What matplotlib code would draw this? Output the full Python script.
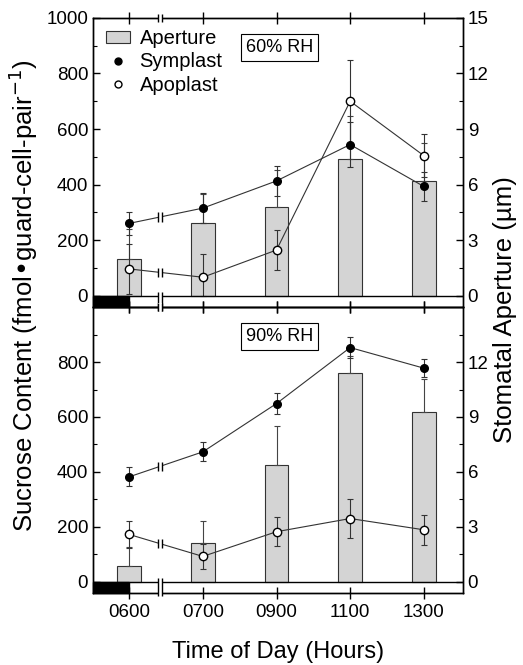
import numpy as np
import matplotlib.pyplot as plt
from matplotlib.patches import Patch, Rectangle
from matplotlib.lines import Line2D

plt.rcParams['font.family'] = ['Liberation Sans', 'DejaVu Sans']

# data
times = ['0600', '0700', '0900', '1100', '1300']

# 60% RH
ap60 = [2.0, 3.9, 4.8, 7.4, 6.2]          # stomatal aperture (um)
ap60_err = [1.6, 1.6, 2.0, 2.3, 2.05]
sym60 = [260, 315, 413, 544, 393]         # symplast sucrose
sym60_err = [42, 55, 54, 80, 51]
apo60 = [96, 66, 164, 700, 504]           # apoplast sucrose
apo60_err = [90, 84, 72, 150, 78]

# 90% RH
ap90 = [0.87, 2.1, 6.4, 11.4, 9.3]
ap90_err = [1.0, 1.2, 2.1, 0.93, 1.8]
sym90 = [382, 473, 649, 853, 778]
sym90_err = [35, 35, 37, 38, 32]
apo90 = [172, 92, 182, 230, 189]
apo90_err = [49, 45, 52, 70, 54]

x = np.arange(len(times))
ymin = -42
xlo, xhi = -0.49, 4.53
brk_x = 0.42   # where the time axis is broken
g = 0.028      # half gap of break marks


def brk(ax, xc, y0, y1):
    # double-line break mark with white gap
    ax.fill_between([xc - g, xc + g], y0, y1, color='white', zorder=8, clip_on=False, lw=0)
    ax.vlines([xc - g, xc + g], y0, y1, color='black', lw=1, zorder=9, clip_on=False)


def panel(ax, ap, ap_err, sym, sym_err, apo, apo_err, label, top_max):
    ax2 = ax.twinx()
    ax2.bar(x, ap, width=0.32, color='#d4d4d4', edgecolor='#333333', linewidth=0.8,
            yerr=[np.zeros(len(ap)), ap_err],
            error_kw=dict(ecolor='#444444', elinewidth=0.8, capsize=2.5, capthick=0.8))
    ax2.set_ylim(ymin * 0.015, 15)
    ax.set_zorder(ax2.get_zorder() + 1)
    ax.patch.set_visible(False)

    for vals, errs, fc, ms in ((sym, sym_err, 'black', 5.5), (apo, apo_err, 'white', 6)):
        lower = np.minimum(errs, vals)   # errors stop at zero
        ax.errorbar(x, vals, yerr=[lower, errs], fmt='o-', color='#333333', mfc=fc, mec='black',
                    ms=ms, lw=0.8, elinewidth=0.8, capsize=2.5, capthick=0.8, zorder=4)

    ax.set_xlim(xlo, xhi)
    ax.set_ylim(ymin, 1000)
    ax.axhline(0, color='black', lw=1, zorder=6)
    ax.add_patch(Rectangle((xlo, ymin), x[0] - xlo, -ymin, color='black', zorder=7, clip_on=False))

    # axis breaks
    brk(ax, brk_x, 985, 1015)
    brk(ax, brk_x, ymin - 12, 12)
    for s in (sym, apo):
        yi = s[0] + (s[1] - s[0]) * (brk_x - x[0]) / (x[1] - x[0])
        brk(ax, brk_x, yi - 17, yi + 17)

    ax.set_yticks(np.arange(0, top_max + 1, 200))
    ax.set_yticks(np.arange(100, 1000, 100), minor=True)
    ax2.set_yticks(np.arange(0, top_max * 0.015 + 0.1, 3))
    ax2.set_yticks(np.arange(1.5, 15, 1.5), minor=True)
    for a in (ax, ax2):
        a.tick_params(axis='y', which='major', direction='in', length=5, width=1, labelsize=13.5)
        a.tick_params(axis='y', which='minor', direction='in', length=3, width=0.8)
    ax.set_xticks(x)
    ax.tick_params(axis='x', which='major', direction='inout', length=9, width=1,
                   top=True, labelsize=13.5)
    for a in (ax, ax2):
        for sp in a.spines.values():
            sp.set_linewidth(1)

    ax.text(2.04, 893, label, ha='center', va='center', fontsize=13, zorder=10,
            bbox=dict(boxstyle='square,pad=0.28', fc='white', ec='black', lw=0.8))
    return ax2


fig = plt.figure(figsize=(5.23, 6.65), dpi=100)
ax_top = fig.add_axes([0.178, 0.538, 0.707, 0.435])
ax_bot = fig.add_axes([0.178, 0.108, 0.707, 0.430], sharex=ax_top)

panel(ax_top, ap60, ap60_err, sym60, sym60_err, apo60, apo60_err, '60% RH', 1000)
panel(ax_bot, ap90, ap90_err, sym90, sym90_err, apo90, apo90_err, '90% RH', 800)

ax_top.tick_params(axis='x', labelbottom=False)
ax_bot.set_xticks(x)
ax_bot.set_xticklabels(times)

handles = [Patch(fc='#d4d4d4', ec='#333333', lw=0.8),
           Line2D([], [], marker='o', ls='none', mfc='black', mec='black', ms=5),
           Line2D([], [], marker='o', ls='none', mfc='white', mec='black', ms=5)]
ax_top.legend(handles, ['Aperture', 'Symplast', 'Apoplast'], loc='upper left',
              bbox_to_anchor=(0.036, 0.962), frameon=False, fontsize=14.5,
              handlelength=1.15, handleheight=0.5, handletextpad=0.5,
              labelspacing=0.22, borderaxespad=0, borderpad=0)

fig.text(0.045, 0.556, 'Sucrose Content (fmol\u2022guard-cell-pair$^{-1}$)',
         rotation=90, ha='center', va='center', fontsize=18.5)
fig.text(0.966, 0.534, 'Stomatal Aperture (\u00b5m)', rotation=90,
         ha='center', va='center', fontsize=18.5)
fig.text(0.531, 0.02, 'Time of Day (Hours)', ha='center', va='center', fontsize=17)

fig.savefig('out.png', dpi=100)
